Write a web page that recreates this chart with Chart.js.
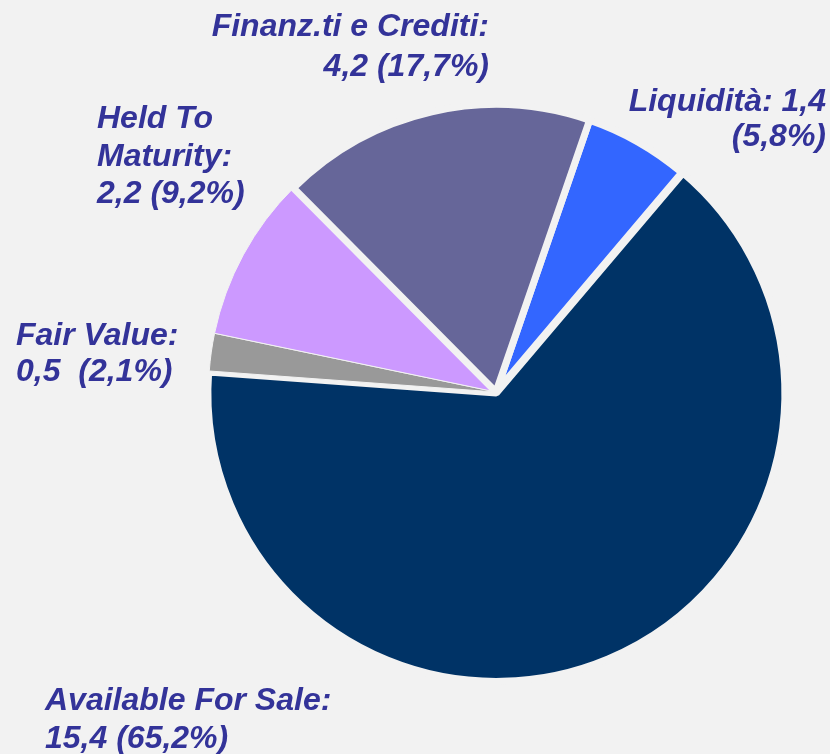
<!DOCTYPE html>
<html>
<head>
<meta charset="utf-8">
<script src="https://cdn.jsdelivr.net/npm/chart.js@4.4.1/dist/chart.umd.min.js"></script>
<style>
    html, body { margin: 0; padding: 0; background: #f2f2f2; }
    #wrap { width: 830px; height: 754px; position: relative; }
</style>
</head>
<body>
<div id="wrap"><canvas id="pieChart"></canvas></div>
<script>
// Data (values in billions, shares in %)
const categories = ['Liquidità', 'Available For Sale', 'Fair Value', 'Held To Maturity', 'Finanz.ti e Crediti'];
const values = [1.4, 15.4, 0.5, 2.2, 4.2];
const shares = [5.8, 65.2, 2.1, 9.2, 17.7];

const sliceColors = ['#3366FF', '#003366', '#999999', '#CC99FF', '#666699'];

const fmt = v => v.toFixed(1).replace('.', ',');

// label text, split into lines as in the original slide
const labelLines = [
    [categories[0] + ': ' + fmt(values[0]), '(' + fmt(shares[0]) + '%)'],
    [categories[1] + ':', fmt(values[1]) + ' (' + fmt(shares[1]) + '%)'],
    [categories[2] + ':', fmt(values[2]) + '  (' + fmt(shares[2]) + '%)'],
    ['Held To', 'Maturity:', fmt(values[3]) + ' (' + fmt(shares[3]) + '%)'],
    [categories[4] + ':', fmt(values[4]) + ' (' + fmt(shares[4]) + '%)']
];

// where each label sits (first baseline), alignment and line gap
const labelLayout = [
    { x: 826, y: 111, align: 'right', gap: 35 },
    { x: 45, y: 710, align: 'left', gap: 38 },
    { x: 16, y: 345, align: 'left', gap: 36 },
    { x: 97, y: 128, align: 'left', gap: 37.5 },
    { x: 489, y: 36, align: 'right', gap: 40 }
];

const sliceLabels = {
    id: 'sliceLabels',
    afterDatasetsDraw(chart) {
        const ctx = chart.ctx;
        ctx.save();
        ctx.fillStyle = '#333399';
        ctx.font = 'italic bold 32px "Liberation Sans", Arial, sans-serif';
        ctx.textBaseline = 'alphabetic';
        labelLines.forEach((lines, i) => {
            const pos = labelLayout[i];
            ctx.textAlign = pos.align;
            lines.forEach((line, j) => {
                ctx.fillText(line, pos.x, pos.y + j * pos.gap);
            });
        });
        ctx.restore();
    }
};

document.addEventListener('DOMContentLoaded', function() {
    const ctx = document.getElementById('pieChart').getContext('2d');

    new Chart(ctx, {
        type: 'pie',
        data: {
            labels: categories,
            datasets: [{
                data: values,
                backgroundColor: sliceColors,
                borderColor: '#f2f2f2',
                borderWidth: [7, 7, 1, 1, 7],
                offset: [0, 4, 0, 0, 0]
            }]
        },
        options: {
            responsive: true,
            maintainAspectRatio: false,
            animation: false,
            events: [],
            rotation: 19,
            layout: {
                padding: { left: 203, right: 41, top: 99, bottom: 69 }
            },
            plugins: {
                legend: { display: false },
                tooltip: { enabled: false }
            }
        },
        plugins: [sliceLabels]
    });
});
</script>
</body>
</html>
